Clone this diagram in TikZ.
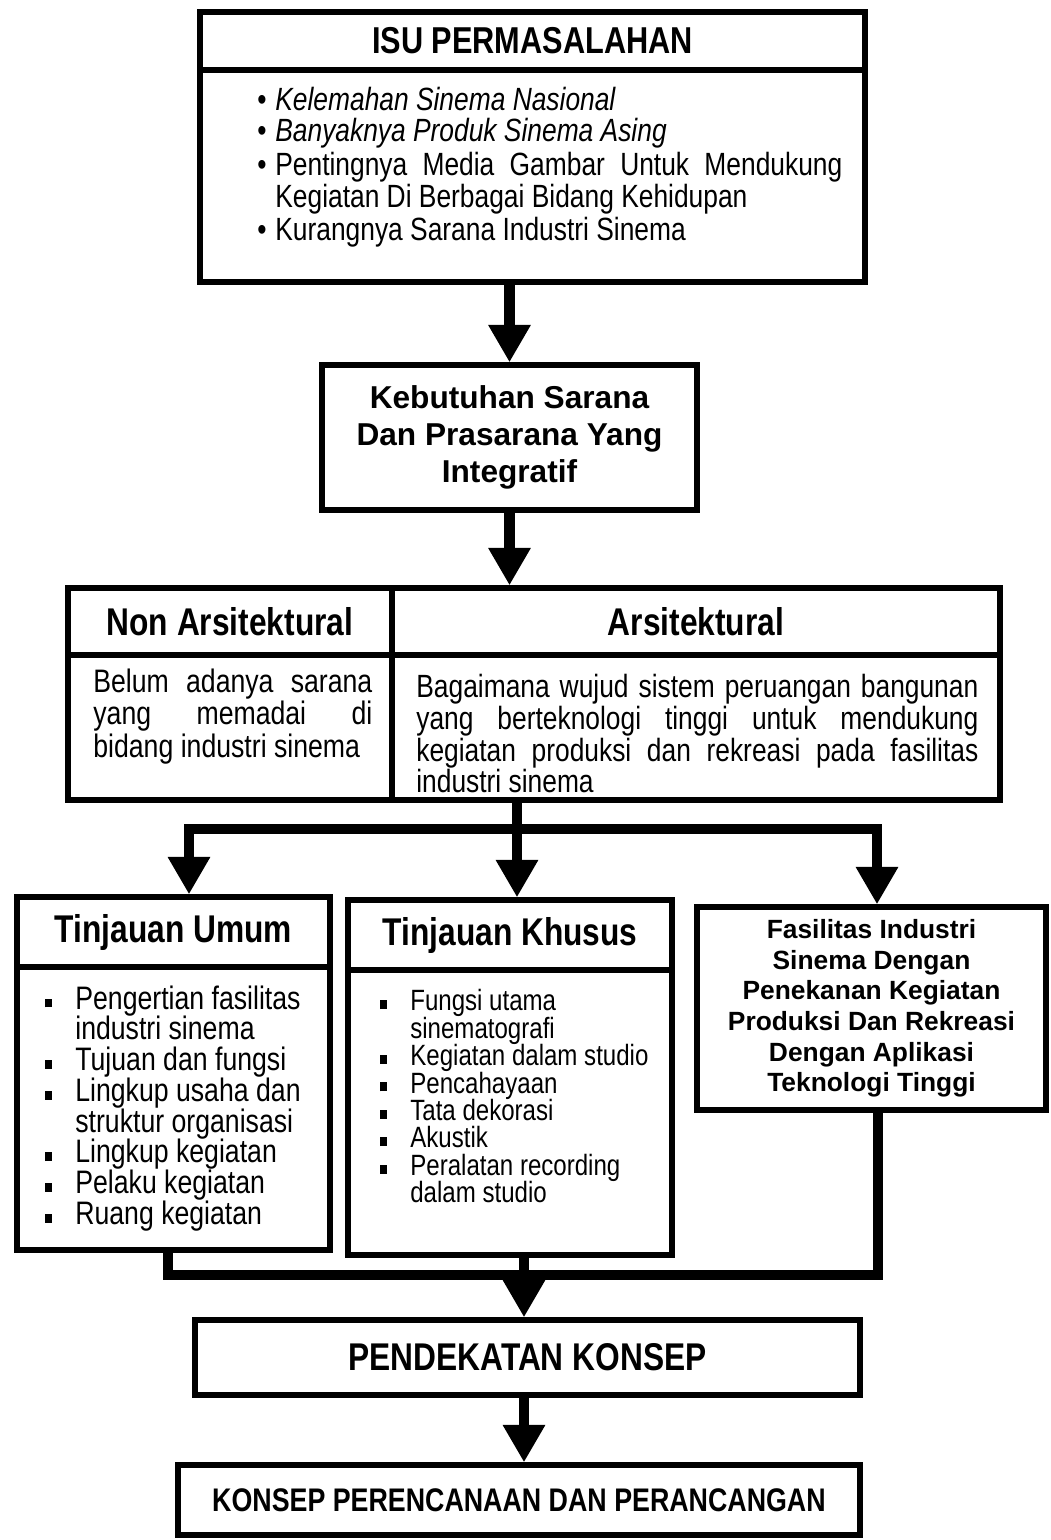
\documentclass[tikz,border=0pt]{standalone}
\usepackage{fontspec}
\setmainfont{Liberation Sans}[FakeStretch=0.82]
\newfontfamily\widefont{Liberation Sans}
\usepackage{tikz}
\usetikzlibrary{arrows.meta}

\newcommand{\isuitem}[1]{\par\hangindent=0.36cm\hangafter=1\noindent\makebox[0.36cm][l]{\textbullet}#1}
\newcommand{\sqitem}[1]{\par\hangindent=0.6cm\hangafter=1\noindent\makebox[0.6cm][l]{\rule[1pt]{3.5pt}{5pt}}#1}
\newcommand{\fsz}[2]{\fontsize{#1}{#2}\selectfont}

\begin{document}
\begin{tikzpicture}
\useasboundingbox (0,0) rectangle (21.02,-30.8);
            \begin{scope}[every node/.style={draw,line width=3pt,inner sep=0pt,align=center}]
                \node (isuhead) [minimum width=13.3cm,minimum height=1.16cm,font=\bfseries\fsz{21.3}{24}] at (10.65,-0.82) {ISU PERMASALAHAN};
                \node (isubody) [minimum width=13.3cm,minimum height=4.24cm] at (10.65,-3.52) {};
                \node (keb) [minimum width=7.5cm,minimum height=2.9cm,font=\widefont\bfseries\fsz{18}{21}] at (10.19,-8.75) {Kebutuhan Sarana\\Dan Prasarana Yang\\Integratif};
                \node (nonhead) [minimum width=6.48cm,minimum height=1.34cm,font=\bfseries\fsz{22}{24}] at (4.6,-12.43) {Non Arsitektural};
                \node (arshead) [minimum width=12.16cm,minimum height=1.34cm,font=\bfseries\fsz{22}{24}] at (13.92,-12.43) {Arsitektural};
                \node (nonbody) [minimum width=6.48cm,minimum height=2.9cm] at (4.6,-14.55) {};
                \node (arsbody) [minimum width=12.16cm,minimum height=2.9cm] at (13.92,-14.55) {};
                \node (tuhead) [minimum width=6.26cm,minimum height=1.4cm,font=\bfseries\fsz{22}{24}] at (3.47,-18.64) {Tinjauan Umum};
                \node (tubody) [minimum width=6.26cm,minimum height=5.66cm] at (3.47,-22.17) {};
                \node (tkhead) [minimum width=6.48cm,minimum height=1.4cm,font=\bfseries\fsz{22}{24}] at (10.2,-18.7) {Tinjauan Khusus};
                \node (tkbody) [minimum width=6.48cm,minimum height=5.7cm] at (10.2,-22.25) {};
                \node (fas) [minimum width=6.98cm,minimum height=4.06cm,font=\widefont\bfseries\fsz{15}{17.4}] at (17.43,-20.17) {Fasilitas Industri\\Sinema Dengan\\Penekanan Kegiatan\\Produksi Dan Rekreasi\\Dengan Aplikasi\\Teknologi Tinggi};
                \node (pend) [minimum width=13.3cm,minimum height=1.5cm,font=\bfseries\fsz{22}{24}] at (10.55,-27.15) {PENDEKATAN KONSEP};
                \node (konsep) [minimum width=13.64cm,minimum height=1.4cm,font=\bfseries\fsz{18.6}{21}] at (10.38,-30.0) {KONSEP PERENCANAAN DAN PERANCANGAN};
            \end{scope}

            \begin{scope}[every node/.style={inner sep=0pt,anchor=north west}]
                \node (isutext) [text width=11.7cm,align=justify,font=\fsz{18.3}{16.5}] at (5.14,-1.58) {%
                  \setlength{\parskip}{1.2pt}%
                  \isuitem{\textit{Kelemahan Sinema Nasional}}
                  \isuitem{\textit{Banyaknya Produk Sinema Asing}}
                  \isuitem{Pentingnya Media Gambar Untuk Mendukung\linebreak Kegiatan Di Berbagai Bidang Kehidupan}
                  \isuitem{Kurangnya Sarana Industri Sinema}\par};
                \node (nontext) [text width=5.58cm,align=justify,font=\fsz{18.5}{16.8}] at (1.86,-13.38) {Belum adanya sarana\linebreak yang memadai di\linebreak bidang industri sinema};
                \node (arstext) [text width=11.24cm,align=justify,font=\fsz{18.3}{17}] at (8.32,-13.48) {Bagaimana wujud sistem peruangan bangunan\linebreak yang berteknologi tinggi untuk mendukung\linebreak kegiatan produksi dan rekreasi pada fasilitas\linebreak industri sinema};
                \node (tutext) [text width=5.9cm,align=flush left,font=\fsz{18.5}{17.5}] at (0.9,-19.56) {%
                  \sqitem{Pengertian fasilitas\newline industri sinema}
                  \sqitem{Tujuan dan fungsi}
                  \sqitem{Lingkup usaha dan\newline struktur organisasi}
                  \sqitem{Lingkup kegiatan}
                  \sqitem{Pelaku kegiatan}
                  \sqitem{Ruang kegiatan}\par};
                \node (tktext) [text width=5.6cm,align=flush left,font=\fsz{16.7}{15.6}] at (7.6,-19.66) {%
                  \sqitem{Fungsi utama\newline sinematografi}
                  \sqitem{Kegiatan dalam studio}
                  \sqitem{Pencahayaan}
                  \sqitem{Tata dekorasi}
                  \sqitem{Akustik}
                  \sqitem{Peralatan recording\newline dalam studio}\par};
            \end{scope}

            \begin{scope}[thickline/.style={line width=6pt,line join=miter},
                          thickarrow/.style={thickline,-{Triangle[width=0.8cm,length=0.75cm]}}]
                \coordinate (jL) at (3.78,-16.58);
                \coordinate (jM) at (10.34,-16.58);
                \coordinate (jR) at (17.54,-16.58);
                \coordinate (mL) at (3.36,-25.5);
                \coordinate (mM) at (10.48,-25.5);
                \coordinate (mR) at (17.56,-25.5);
                \draw [thickarrow] (keb.north |- isubody.south) -- (keb.north);
                \draw [thickarrow] (keb.south) -- (keb.south |- arshead.north);
                \draw [thickarrow] (arsbody.south -| jM) -- (tkhead.north -| jM);
                \draw [thickarrow] (jM) -| (tuhead.north -| jL);
                \draw [thickarrow] (jM) -| (fas.north -| jR);
                \draw [thickline] (tubody.south -| mL) -- (mL) -- (mR) -- (fas.south -| mR);
                \draw [thickline] (tkbody.south -| mM) -- (mM);
                \draw [thickarrow] (mM) -- (pend.north -| mM);
                \draw [thickarrow] (pend.south -| mM) -- (konsep.north -| mM);
            \end{scope}
\end{tikzpicture}
\end{document}
